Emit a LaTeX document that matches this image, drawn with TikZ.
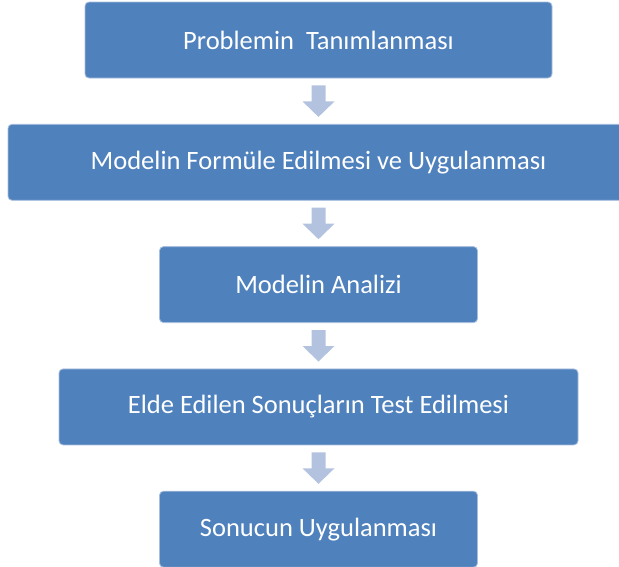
\documentclass[tikz,border=0pt]{standalone}
\usepackage{fontspec}
\setmainfont{Carlito}
\usetikzlibrary{calc}
\usetikzlibrary{positioning}

\definecolor{boxblue}{RGB}{79,129,189}
\definecolor{boxline}{RGB}{168,190,222}
\definecolor{arrowblue}{RGB}{179,195,223}

\tikzset{
  stepbox/.style={rectangle, rounded corners=4pt, fill=boxblue, draw=boxline,
    line width=0.8pt, minimum height=76pt, inner sep=0pt, text=white,
    font=\fontsize{26.5}{30}\selectfont},
  flowarrow/.style={fill=arrowblue}
}

\begin{document}
\begin{tikzpicture}[x=1pt,y=1pt,node distance=45.5pt]
    \useasboundingbox (0,0) rectangle (619,-566);

    \node[stepbox, minimum width=467pt] (p1) at (318.5,-40) {Problemin\ \ Tanımlanması};
    \node[stepbox, minimum width=621pt, below=of p1] (p2) {Modelin Formüle Edilmesi ve Uygulanması};
    \node[stepbox, minimum width=318pt, below=of p2] (p3) {Modelin Analizi};
    \node[stepbox, minimum width=519pt, below=of p3] (p4) {Elde Edilen Sonuçların Test Edilmesi};
    \node[stepbox, minimum width=318pt, below=of p4] (p5) {Sonucun Uygulanması};

    % block arrows between the steps
    \foreach \a/\b in {p1/p2,p2/p3,p3/p4,p4/p5}
      \fill[flowarrow]
        ($(\a.south)+(-7,-7)$) -- ($(\a.south)+(7,-7)$) -- ($(\a.south)+(7,-23)$)
        -- ($(\a.south)+(16,-23)$) -- ($(\b.north)+(0,7)$)
        -- ($(\a.south)+(-16,-23)$) -- ($(\a.south)+(-7,-23)$) -- cycle;

\end{tikzpicture}
\end{document}
